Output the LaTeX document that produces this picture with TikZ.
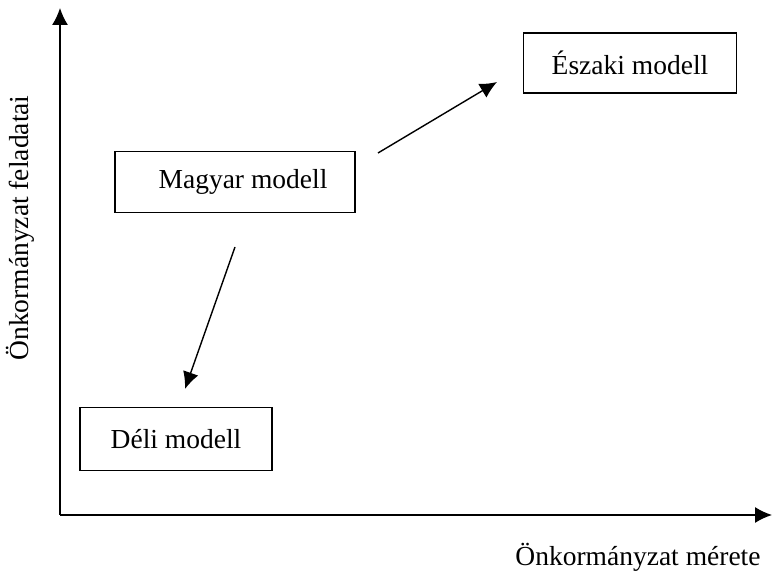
\documentclass[tikz,border=0pt]{standalone}
\usepackage{fontspec}
\setmainfont{Liberation Serif}
\usepackage{tikz}
\usetikzlibrary{arrows,arrows.meta}
\usetikzlibrary{shapes,positioning,calc}

\tikzset{
  felirat/.style={font=\fontsize{27.5}{32}\selectfont},
  modell/.style={draw, line width=1.2pt, inner sep=0pt, felirat},
  nyil/.style={line width=1.4pt, -{Latex[length=17pt,width=16pt]}},
}

\begin{document}
\begin{tikzpicture}[x=1pt, y=-1pt]
				\useasboundingbox (0,0) rectangle (772,577);
				\coordinate (origo) at (60,515);
				\coordinate (ytip) at (60,8);
				\coordinate (xtip) at (772,515);
				\draw[nyil] (origo) -- (ytip);
				\draw[nyil] (origo) -- (xtip);
				\node[modell, minimum width=213pt, minimum height=60pt] (eszaki) at (630,63) {Északi modell};
				\node[modell, minimum width=240pt, minimum height=61pt] (magyar) at (235,182) {\hspace*{16pt}Magyar modell};
				\node[modell, minimum width=192pt, minimum height=63pt] (deli) at (176,439) {Déli modell};
				\node[rotate=90, felirat] (yfelirat) at (20,228) {Önkormányzat feladatai};
				\node[felirat] (xfelirat) at (638,557) {Önkormányzat mérete};
				\coordinate (e1) at (378,153);
				\coordinate (e2) at (497,82);
				\coordinate (d1) at (235,247);
				\coordinate (d2) at (185,389);
				\draw[nyil] (e1) -- (e2);
				\draw[nyil] (d1) -- (d2);
			\end{tikzpicture}
\end{document}
